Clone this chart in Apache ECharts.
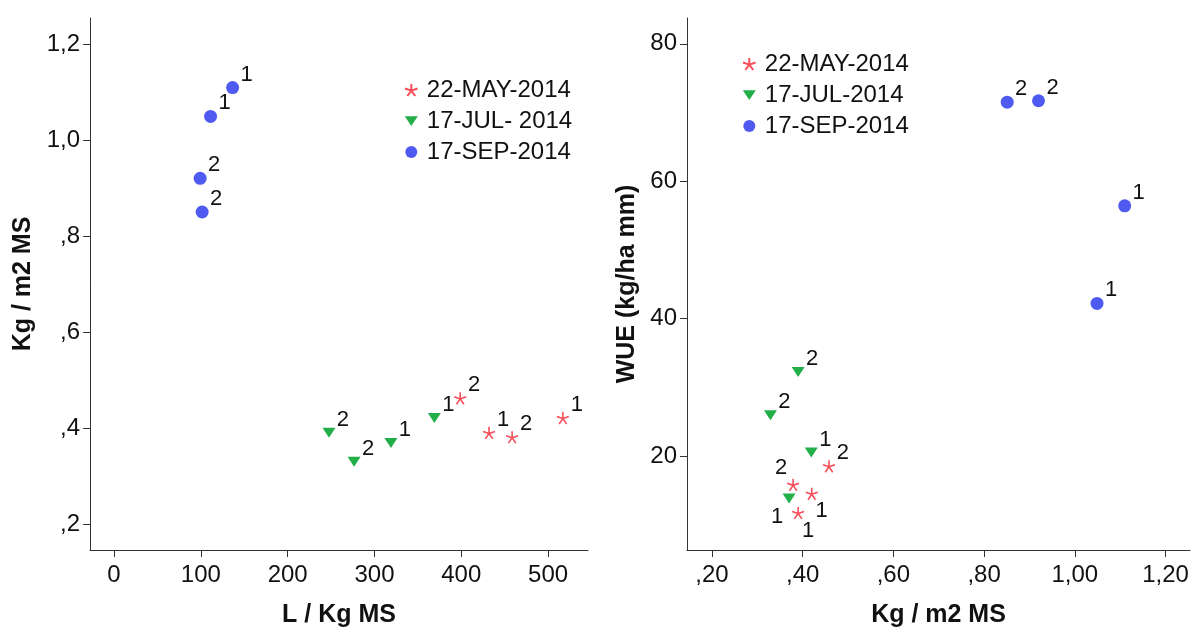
<!DOCTYPE html>
<html>
<head>
<meta charset="utf-8">
<script src="https://cdn.jsdelivr.net/npm/echarts@6/dist/echarts.min.js"></script>
<style>
  html, body { margin: 0; padding: 0; background: #fff; }
  #chart { width: 1193px; height: 633px; }
</style>
</head>
<body>
<div id="chart"></div>
<script>
  // left panel: L / Kg MS (x) vs Kg / m2 MS (y)
  const mayL = [398.8, 432, 458.6, 517];
  const mayKgL = [0.462, 0.390, 0.381, 0.421];
  const mayTagL = ["2", "1", "2", "1"];
  const julL = [247.6, 276.5, 319, 369];
  const julKgL = [0.390, 0.330, 0.369, 0.421];
  const julTagL = ["2", "2", "1", "1"];
  const sepL = [136.6, 111.2, 99.2, 101.5];
  const sepKgL = [1.109, 1.049, 0.920, 0.850];
  const sepTagL = ["1", "1", "2", "2"];

  // right panel: Kg / m2 MS (x) vs WUE (y)
  const mayKgR = [0.458, 0.379, 0.420, 0.390];
  const mayWue = [18.5, 15.8, 14.5, 11.7];
  const mayTagR = ["2", "2", "1", "1"];
  const julKgR = [0.390, 0.329, 0.419, 0.370];
  const julWue = [32.2, 25.9, 20.5, 13.8];
  const julTagR = ["2", "2", "1", "1"];
  const sepKgR = [0.851, 0.920, 1.110, 1.049];
  const sepWue = [71.5, 71.7, 56.4, 42.2];
  const sepTagR = ["2", "2", "1", "1"];

  const leftXTicks = [0, 100, 200, 300, 400, 500];
  const leftYTicks = [0.2, 0.4, 0.6, 0.8, 1.0, 1.2];
  const rightXTicks = [0.2, 0.4, 0.6, 0.8, 1.0, 1.2];
  const rightYTicks = [20, 40, 60, 80];

  const legendNamesLeft = ["22-MAY-2014", "17-JUL- 2014", "17-SEP-2014"];
  const legendNamesRight = ["22-MAY-2014", "17-JUL-2014", "17-SEP-2014"];

  const FONT = "Liberation Sans, Arial, sans-serif";
  const RED = "#f4212f";
  const GREEN = "#22ae48";
  const BLUE = "#4f5bf0";
  const STAR = "path://M0,-10 L0,0 M0,0 L9.5,-3.1 M0,0 L5.9,8.1 M0,0 L-5.9,8.1 M0,0 L-9.5,-3.1";
  const TRI = "path://M0,0 L12,0 L6,9 Z";

  // label offsets for crowded points in the right panel (key: series-index)
  const offsets = {
    "may-1": [-12, -17],
    "may-2": [10, 17],
    "may-3": [10, 18],
    "jul-3": [-12, 18]
  };

  function comma(digits) {
    return (v) => {
      let s = Number(v).toFixed(digits).replace(".", ",");
      if (s.startsWith("0,")) s = s.slice(1);
      return s;
    };
  }

  function points(xs, ys, tags, key) {
    return xs.map((x, i) => {
      const item = { value: [x, ys[i], tags[i]] };
      const off = key && offsets[key + "-" + i];
      if (off) item.label = { offset: off };
      return item;
    });
  }

  function series(name, symbol, size, color, data, idx) {
    const isStar = symbol === STAR;
    return {
      name,
      type: "scatter",
      xAxisIndex: idx,
      yAxisIndex: idx,
      symbol,
      symbolSize: size,
      itemStyle: isStar
        ? { color: "rgba(255,255,255,0)", borderColor: color, borderWidth: 1.6 }
        : { color, borderWidth: 0, opacity: 1 },
      label: {
        show: true,
        position: "inside",
        offset: [14, -13],
        formatter: (p) => p.value[2],
        color: "#111",
        textBorderWidth: 0,
        textBorderColor: "transparent",
        opacity: 1,
        fontFamily: FONT,
        fontSize: 22
      },
      emphasis: { disabled: true },
      data
    };
  }

  function valueAxis(gridIndex, min, max, ticks, fmt, name, nameGap, isY) {
    return {
      type: "value",
      gridIndex,
      min,
      max,
      name,
      nameLocation: "middle",
      nameGap,
      nameTextStyle: { fontFamily: FONT, fontSize: 25, fontWeight: "bold", color: "#111" },
      axisLine: { show: true, onZero: false, lineStyle: { color: "#333", width: 1 } },
      axisTick: { show: true, inside: false, length: 7, customValues: ticks, lineStyle: { color: "#333" } },
      axisLabel: {
        customValues: ticks,
        formatter: fmt,
        fontFamily: FONT,
        fontSize: 24,
        color: "#111",
        margin: isY ? 10 : 13
      },
      splitLine: { show: false }
    };
  }

  const legendText = { fontFamily: FONT, fontSize: 24, color: "#111", padding: [0, 0, 0, 4] };

  const chart = echarts.init(document.getElementById("chart"), null, { renderer: "canvas" });
  chart.setOption({
    animation: false,
    backgroundColor: "#fff",
    grid: [
      { left: 90, top: 18, width: 498, height: 537 },
      { left: 687, top: 18, width: 503, height: 537 }
    ],
    legend: [
      {
        data: legendNamesLeft,
        orient: "vertical",
        left: 399,
        top: 73,
        itemGap: 7,
        itemWidth: 13,
        itemHeight: 12,
        textStyle: legendText
      },
      {
        data: legendNamesRight,
        orient: "vertical",
        left: 737,
        top: 47,
        itemGap: 7,
        itemWidth: 13,
        itemHeight: 12,
        textStyle: legendText
      }
    ],
    xAxis: [
      valueAxis(0, -27.7, 546, leftXTicks, (v) => String(v), "L / Kg MS", 53, false),
      valueAxis(1, 0.145, 1.254, rightXTicks, comma(2), "Kg / m2 MS", 53, false)
    ],
    yAxis: [
      valueAxis(0, 0.146, 1.254, leftYTicks, comma(1), "Kg / m2 MS", 54, true),
      valueAxis(1, 6.3, 83.75, rightYTicks, (v) => String(v), "WUE (kg/ha mm)", 47, true)
    ],
    series: [
      series(legendNamesLeft[0], STAR, 12, RED, points(mayL, mayKgL, mayTagL), 0),
      series(legendNamesLeft[1], TRI, [13, 10], GREEN, points(julL, julKgL, julTagL), 0),
      series(legendNamesLeft[2], "circle", 13, BLUE, points(sepL, sepKgL, sepTagL), 0),
      series(legendNamesRight[0], STAR, 12, RED, points(mayKgR, mayWue, mayTagR, "may"), 1),
      series(legendNamesRight[1], TRI, [13, 10], GREEN, points(julKgR, julWue, julTagR, "jul"), 1),
      series(legendNamesRight[2], "circle", 13, BLUE, points(sepKgR, sepWue, sepTagR, "sep"), 1)
    ]
  });
</script>
</body>
</html>
